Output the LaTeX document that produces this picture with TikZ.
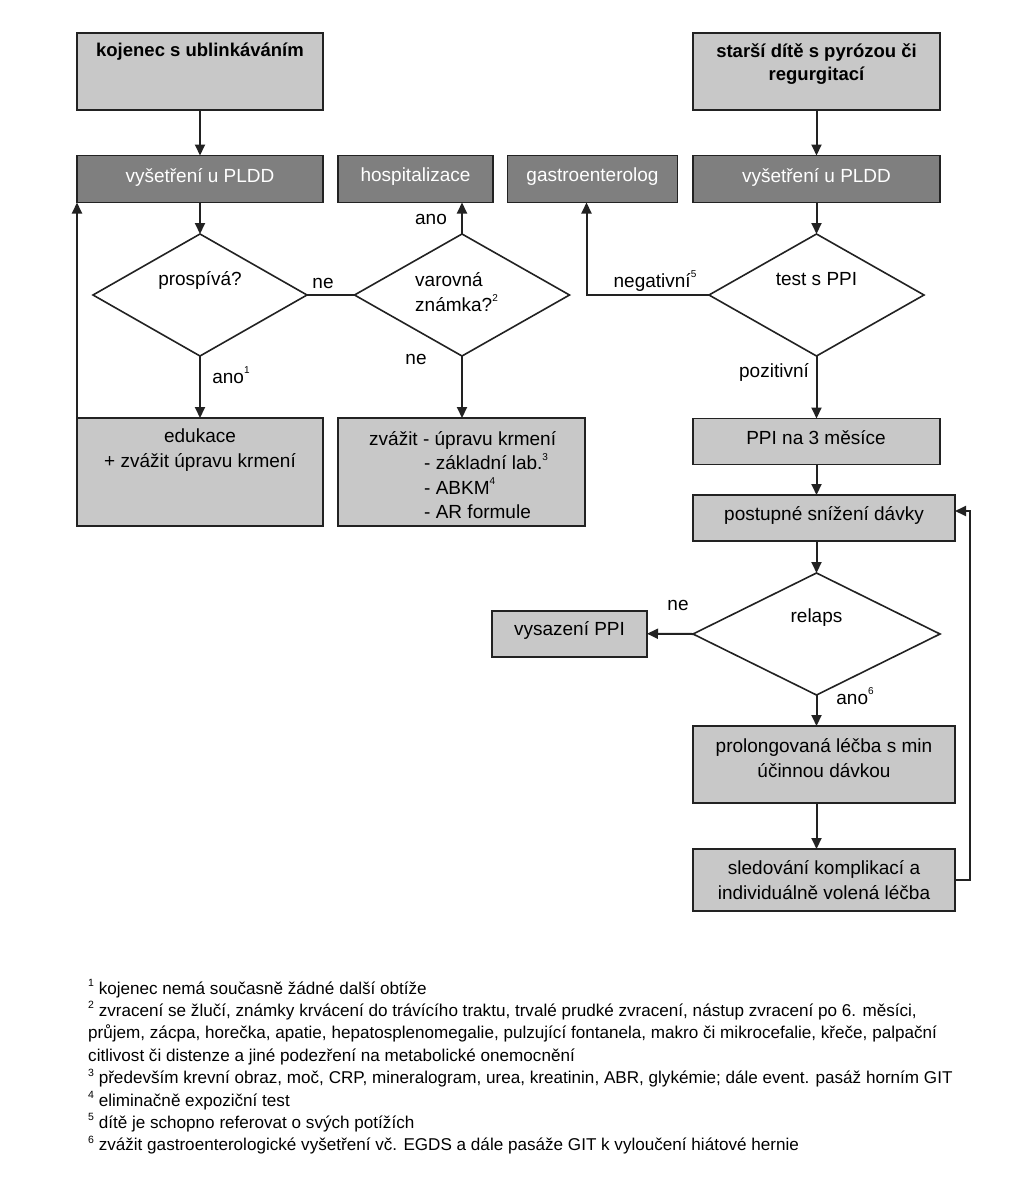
\documentclass[tikz,border=0pt]{standalone}
\usepackage{fontspec}
\setmainfont{Liberation Sans}
\usetikzlibrary{shapes.geometric,arrows.meta}
\definecolor{lightbox}{HTML}{C8C8C8}
\definecolor{darkbox}{HTML}{7F7F7F}
\definecolor{edgecol}{HTML}{222222}
\newcommand{\supr}[1]{\raisebox{0.5em}{\fontsize{10}{10}\selectfont #1}}
\newcommand{\fsup}[1]{\raisebox{0.45em}{\fontsize{10.5}{10}\selectfont #1}}
\begin{document}
\begin{tikzpicture}[x=1pt,y=-1pt,
  lbox/.style={draw=edgecol, line width=1.9pt, fill=lightbox, inner sep=0pt, outer sep=0pt},
  dbox/.style={draw=edgecol, line width=1.9pt, fill=darkbox, text=white, inner sep=0pt, outer sep=0pt, font=\fontsize{19}{24}\selectfont},
  dia/.style={diamond, draw=edgecol, line width=1.6pt, fill=white, inner sep=0pt, outer sep=0pt},
  txt/.style={inner sep=0pt, align=center, font=\fontsize{19}{24.5}\selectfont},
  btxt/.style={inner sep=0pt, align=center, font=\bfseries\fontsize{18.5}{23.5}\selectfont},
  lbl/.style={inner sep=0pt, font=\fontsize{19}{24}\selectfont},
  arr/.style={-{Triangle[length=11pt,width=10pt]}, line width=2pt, draw=edgecol},
  ln/.style={line width=2pt, draw=edgecol}
]
\useasboundingbox (0,0) rectangle (1024,1204);
\fill[white] (0,0) rectangle (1024,1204);

% boxes
\node[lbox, minimum width=246pt, minimum height=77pt] (k1) at (200,71.5) {};
\node[btxt] (k1t) at (200,52) {kojenec s ublinkáváním};
\node[lbox, minimum width=247pt, minimum height=77pt] (s1) at (816.5,71.5) {};
\node[btxt] (s1t) at (816.5,64) {starší dítě s pyrózou či\\regurgitací};

\node[dbox, minimum width=246pt, minimum height=47pt] (v1) at (200,179) {};
\node[txt, text=white] (v1t) at (200,177) {vyšetření u PLDD};
\node[dbox, minimum width=155pt, minimum height=47pt] (hosp) at (415.5,179) {};
\node[txt, text=white] (hospt) at (415.5,176.5) {hospitalizace};
\node[dbox, minimum width=170pt, minimum height=47pt] (gastro) at (592.5,179) {};
\node[txt, text=white] (gastrot) at (592.5,176.5) {gastroenterolog};
\node[dbox, minimum width=247pt, minimum height=47pt] (v2) at (816.5,179) {};
\node[txt, text=white] (v2t) at (816.5,177) {vyšetření u PLDD};

% diamonds
\node[dia, minimum width=214pt, minimum height=122pt] (d1) at (200,295) {};
\node[txt] (d1t) at (200,280) {prospívá?};
\node[dia, minimum width=215pt, minimum height=122pt] (d2) at (462,295) {};
\node[txt, align=left, anchor=west] (d2t) at (415,292) {varovná\\známka?\supr{2}};
\node[dia, minimum width=215pt, minimum height=122pt] (d3) at (816.5,295) {};
\node[txt] (d3t) at (816.5,279.5) {test s PPI};

% lower left boxes
\node[lbox, minimum width=246pt, minimum height=108pt] (edu) at (200,472) {};
\node[txt] (edut) at (200,450) {edukace\\+ zvážit úpravu krmení};
\node[lbox, minimum width=247pt, minimum height=108pt] (zv) at (461.5,472) {};
\node[txt, align=left, anchor=west] (zvt) at (369,475) {zvážit - úpravu krmení\\
  \hspace*{55pt}- základní lab.\supr{3}\\
  \hspace*{55pt}- ABKM\supr{4}\\
  \hspace*{55pt}- AR formule};

% right column
\node[lbox, minimum width=247pt, minimum height=46pt] (ppi) at (816.5,441.5) {};
\node[txt] (ppit) at (816,438) {PPI na 3 měsíce};
\node[lbox, minimum width=262pt, minimum height=46pt] (post) at (824,518) {};
\node[txt] (postt) at (824,515) {postupné snížení dávky};
\node[dia, minimum width=247pt, minimum height=122pt] (d4) at (816.5,634) {};
\node[txt] (d4t) at (816.5,618) {relaps};
\node[lbox, minimum width=155pt, minimum height=46pt] (vys) at (569.5,633.7) {};
\node[txt] (vyst) at (569.5,630) {vysazení PPI};
\node[lbox, minimum width=262pt, minimum height=77pt] (prol) at (824,764.5) {};
\node[txt] (prolt) at (824,758) {prolongovaná léčba s min\\účinnou dávkou};
\node[lbox, minimum width=262pt, minimum height=62pt] (sled) at (824,880) {};
\node[txt] (sledt) at (824,880) {sledování komplikací a\\individuálně volená léčba};

% connectors
\draw[arr] (k1.south) -- (v1.north);
\draw[arr] (s1.south) -- (v2.north);
\draw[arr] (v1.south) -- (d1.north);
\draw[arr] (v2.south) -- (d3.north);
\draw[arr] (d1.south) -- (edu.north);
\draw[ln] (d1.east) -- (d2.west);
\draw[arr] (d2.north) -- (d2.north |- hosp.south);
\draw[arr] (d2.south) -- (d2.south |- zv.north);
\draw[arr] (edu.north west) -- (v1.south west);
\coordinate (gj) at (586.5,295);
\draw[arr] (d3.west) -- (gj) -- (gj |- gastro.south);
\draw[arr] (d3.south) -- (ppi.north);
\draw[arr] (ppi.south) -- (ppi.south |- post.north);
\draw[arr] (d4.north |- post.south) -- (d4.north);
\draw[arr] (d4.west) -- (vys.east);
\draw[arr] (d4.south) -- (d4.south |- prol.north);
\draw[arr] (prol.south -| d4.south) -- (sled.north -| d4.south);
\coordinate (lp1) at (970,880);
\coordinate (lp2) at (970,511);
\draw[arr] (sled.east) -- (lp1) -- (lp2) -- (lp2 -| post.east);

% labels
\node[lbl] (l1) at (431,219) {ano};
\node[lbl] (l2) at (323,283) {ne};
\node[lbl] (l3) at (231,375) {ano\supr{1}};
\node[lbl] (l4) at (416,359) {ne};
\node[lbl] (l5) at (655,281) {negativní\supr{5}};
\node[lbl] (l6) at (774,372) {pozitivní};
\node[lbl] (l7) at (678,605) {ne};
\node[lbl] (l8) at (855,696) {ano\supr{6}};

% footnotes
\node[inner sep=0pt, anchor=north west, align=left, font=\fontsize{17.1}{22.4}\selectfont] (fn) at (88,979) {%
\fsup{1} kojenec nemá současně žádné další obtíže\\
\fsup{2} zvracení se žlučí, známky krvácení do trávícího traktu, trvalé prudké zvracení, nástup zvracení po 6. měsíci,\\
průjem, zácpa, horečka, apatie, hepatosplenomegalie, pulzující fontanela, makro či mikrocefalie, křeče, palpační\\
citlivost či distenze a jiné podezření na metabolické onemocnění\\
\fsup{3} především krevní obraz, moč, CRP, mineralogram, urea, kreatinin, ABR, glykémie; dále event. pasáž horním GIT\\
\fsup{4} eliminačně expoziční test\\
\fsup{5} dítě je schopno referovat o svých potížích\\
\fsup{6} zvážit gastroenterologické vyšetření vč. EGDS a dále pasáže GIT k vyloučení hiátové hernie};
\end{tikzpicture}
\end{document}
